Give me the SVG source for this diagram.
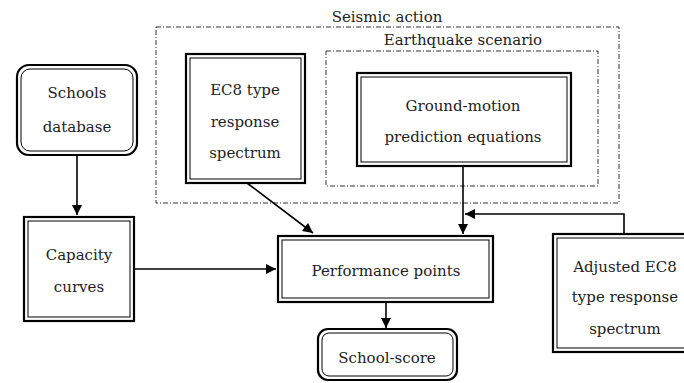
<svg xmlns="http://www.w3.org/2000/svg" width="684" height="383" viewBox="0 0 684 383">
<style>
.o{fill:#fff;stroke:#000;stroke-width:2.2}
.i{fill:none;stroke:#000;stroke-width:1}
.g{fill:none;stroke:#333;stroke-width:1;stroke-dasharray:5 2 1 2}
.t{font-family:"DejaVu Serif","Liberation Serif",serif;font-size:15px;fill:#222;text-anchor:middle}
.c{fill:none;stroke:#000;stroke-width:1.6}
</style>
<defs>
<marker id="a" viewBox="0 0 10 10" refX="10" refY="5" markerWidth="11" markerHeight="10" markerUnits="userSpaceOnUse" orient="auto"><path d="M0,0L10,5L0,10z" fill="#000"/></marker>
</defs>
<g id="seismic-action">
<rect class="g" x="156" y="27" width="463" height="176"/>
<text class="t" x="387" y="22">Seismic action</text>
</g>
<g id="earthquake-scenario">
<rect class="g" x="326" y="51" width="272" height="135"/>
<text class="t" x="463" y="45">Earthquake scenario</text>
</g>
<g id="schools-database">
<rect class="o" x="17" y="65" width="120" height="90" rx="12"/>
<rect class="i" x="21" y="69" width="112" height="82" rx="9"/>
<text class="t" x="77" y="98">Schools</text>
<text class="t" x="77" y="132">database</text>
</g>
<g id="ec8-spectrum">
<rect class="o" x="186" y="54" width="119" height="129"/>
<rect class="i" x="190" y="58" width="111" height="121"/>
<text class="t" x="245" y="95">EC8 type</text>
<text class="t" x="245" y="127">response</text>
<text class="t" x="245" y="158">spectrum</text>
</g>
<g id="gmpe">
<rect class="o" x="357" y="73" width="214" height="93"/>
<rect class="i" x="361" y="77" width="206" height="85"/>
<text class="t" x="463" y="111">Ground-motion</text>
<text class="t" x="463" y="142">prediction equations</text>
</g>
<g id="capacity-curves">
<rect class="o" x="24" y="217" width="110" height="104"/>
<rect class="i" x="28" y="221" width="102" height="96"/>
<text class="t" x="79" y="260">Capacity</text>
<text class="t" x="79" y="292">curves</text>
</g>
<g id="performance-points">
<rect class="o" x="278" y="236" width="215" height="66"/>
<rect class="i" x="282" y="240" width="207" height="58"/>
<text class="t" x="386" y="276">Performance points</text>
</g>
<g id="school-score">
<rect class="o" x="318" y="329" width="139" height="51" rx="10"/>
<rect class="i" x="322" y="333" width="131" height="43" rx="7"/>
<text class="t" x="387" y="363">School-score</text>
</g>
<g id="adjusted-ec8">
<rect class="o" x="553" y="234" width="150" height="118"/>
<rect class="i" x="557" y="238" width="142" height="110"/>
<text class="t" x="625" y="272">Adjusted EC8</text>
<text class="t" x="625" y="302">type response</text>
<text class="t" x="625" y="334">spectrum</text>
</g>
<g id="connectors">
<path class="c" d="M77,155V215" marker-end="url(#a)"/>
<path class="c" d="M247,183L313,233" marker-end="url(#a)"/>
<path class="c" d="M463,166V234" marker-end="url(#a)"/>
<path class="c" d="M624,234V214H465" marker-end="url(#a)"/>
<path class="c" d="M134,269H276" marker-end="url(#a)"/>
<path class="c" d="M386,302V328" marker-end="url(#a)"/>
</g>
</svg>
